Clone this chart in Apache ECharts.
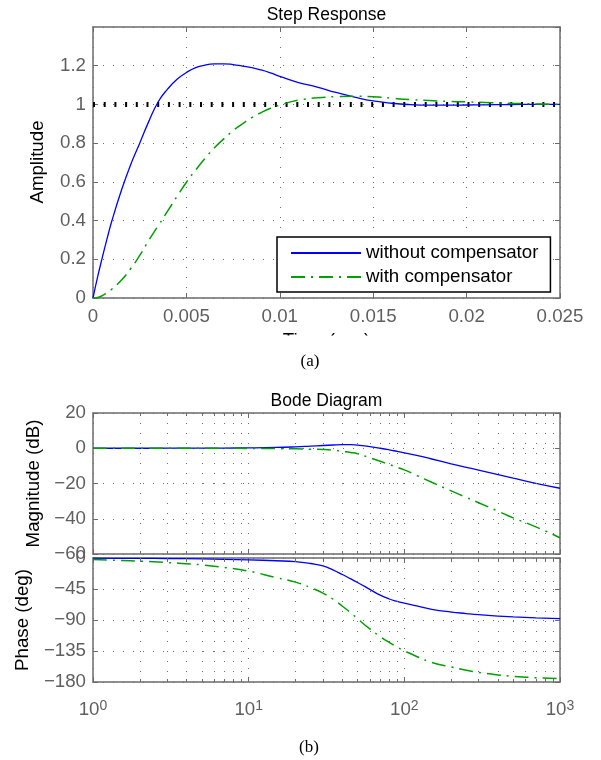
<!DOCTYPE html>
<html>
<head>
<meta charset="utf-8">
<title>Step response and Bode diagram</title>
<script src="https://cdn.jsdelivr.net/npm/echarts@6/dist/echarts.min.js"></script>
<style>
  html, body { margin: 0; padding: 0; background: #fff; }
  #chart { width: 601px; height: 760px; }
</style>
</head>
<body>
<div id="chart"></div>
<script>
// ---- (a) step response -------------------------------------------------
// time samples in seconds
const stepTime = [0, 0.00025, 0.0005, 0.00075, 0.001, 0.0015, 0.002, 0.0025, 0.003, 0.0035,
  0.004, 0.0045, 0.005, 0.0055, 0.006, 0.0065, 0.007, 0.0075, 0.008, 0.0085, 0.009, 0.0095,
  0.010, 0.011, 0.012, 0.013, 0.014, 0.015, 0.016, 0.017, 0.018, 0.019, 0.020, 0.021,
  0.022, 0.023, 0.024, 0.025];
const stepWithout = [0, 0.11, 0.21, 0.305, 0.395, 0.55, 0.685, 0.80, 0.915, 1.015,
  1.08, 1.13, 1.165, 1.19, 1.203, 1.209, 1.21, 1.206, 1.198, 1.19, 1.178, 1.163,
  1.145, 1.113, 1.09, 1.062, 1.038, 1.018, 1.006, 0.999, 0.996, 0.996, 0.997, 0.998,
  0.999, 1.0, 1.0, 1.0];
const stepWith = [0, 0.003, 0.012, 0.027, 0.045, 0.09, 0.15, 0.22, 0.30, 0.375,
  0.45, 0.525, 0.598, 0.662, 0.722, 0.776, 0.822, 0.865, 0.90, 0.932, 0.958, 0.98,
  0.997, 1.022, 1.034, 1.04, 1.042, 1.04, 1.032, 1.025, 1.02, 1.016, 1.013, 1.01,
  1.007, 1.004, 1.002, 1.0];
// final value reference
const finalValueTime = [0, 0.025];
const finalValue = [1, 1];

// ---- (b) Bode diagram --------------------------------------------------
const freq = [1, 1.5, 2, 3, 5, 7, 10, 15, 20, 25, 30, 35, 40, 45, 50, 60, 70, 80, 90,
  100, 120, 150, 200, 250, 300, 400, 500, 700, 1000];
const magWithout = [0, 0, 0.01, 0.02, 0.05, 0.1, 0.2, 0.45, 0.8, 1.2, 1.55, 1.85, 2.05, 2.1,
  1.8, 0.9, 0.0, -0.9, -1.8, -2.6, -4.0, -6.1, -8.8, -10.8, -12.4, -15.0, -17.0, -19.9, -22.7];
const magWith = [0, 0, 0, 0, -0.02, -0.04, -0.08, -0.2, -0.35, -0.55, -0.7, -1.1, -1.8, -2.4,
  -3.1, -5.4, -7.4, -9.2, -10.8, -12.3, -15.4, -19.3, -24.2, -27.9, -30.9, -35.7, -39.5, -44.6, -50.8];
const phaseWithout = [-0.3, -0.4, -0.6, -0.8, -1.3, -1.9, -2.7, -4, -5.3, -8, -11.5, -17.5, -24,
  -30, -35.5, -45.5, -54, -59.5, -63, -65.5, -69.5, -74.5, -78.5, -80.6, -82.2, -84.4, -85.5, -86.8, -88];
const phaseWith = [-2.2, -3.5, -4.5, -6.6, -10, -13.8, -19, -28.5, -35, -43, -51, -60, -70,
  -79, -88, -103, -114, -122.5, -129.5, -134.7, -143, -151.5, -158.2, -162.8, -166, -169.8, -171.8, -173.8, -175];

const seriesNames = ['without compensator', 'with compensator'];

// ---- styling -----------------------------------------------------------
const SANS = '"Liberation Sans", Arial, Helvetica, sans-serif';
const SERIF = '"Liberation Serif", "Times New Roman", serif';
const FRAME = '#6b6b6b';
const TICKTEXT = '#5f5f5f';
const GRIDDOT = '#707070';
const BLUE = '#0000ff';
const GREEN = '#00a000';
const FS = 18.7;

const zip = (xs, ys) => xs.map((x, i) => [x, ys[i]]);
const minus = v => (v < 0 ? '\u2212' + Math.abs(v) : String(v));

// log-decade positions 2..9 within each decade
const minorFreq = [];
for (let d = 1; d < 1000; d *= 10) {
  for (let k = 2; k <= 9; k++) minorFreq.push(k * d);
}

const dotted = { type: [1, 9], color: GRIDDOT, width: 1 };
const axisLine = { onZero: false, lineStyle: { color: FRAME, width: 1.5 } };
const tickIn = { inside: true, length: 5, lineStyle: { color: FRAME, width: 1 } };
const label = { color: TICKTEXT, fontSize: FS, fontFamily: SANS };

function xAxis(grid, pos, extra) {
  return Object.assign({
    gridIndex: grid, position: pos,
    axisLine, axisTick: tickIn,
    axisLabel: { show: false },
    splitLine: { show: false }
  }, extra);
}
function yAxis(grid, pos, extra) {
  return Object.assign({
    gridIndex: grid, position: pos, type: 'value',
    axisLine, axisTick: tickIn,
    axisLabel: { show: false },
    splitLine: { show: false }
  }, extra);
}

const timeAxis = { type: 'value', min: 0, max: 0.025, interval: 0.005 };
const ampAxis = { min: 0, max: 1.4, interval: 0.2 };
const freqAxis = { type: 'log', logBase: 10, min: 1, max: 1000 };
const magAxis = { min: -60, max: 20, interval: 20 };
const phaseAxis = { min: -180, max: 0, interval: 45 };

// dotted vertical lines at the in-between decade values
const minorGrid = {
  silent: true, symbol: ['none', 'none'], animation: false,
  label: { show: false },
  lineStyle: { type: [1, 9], color: GRIDDOT, width: 1 },
  data: minorFreq.map(f => ({ xAxis: f }))
};

// short inward tick marks on the top and bottom frame at the same values
function minorTicks(lo, hi, plotHeight) {
  const len = (hi - lo) * 3 / plotHeight;
  const data = [];
  minorFreq.forEach(f => {
    data.push([{ coord: [f, lo] }, { coord: [f, lo + len] }]);
    data.push([{ coord: [f, hi] }, { coord: [f, hi - len] }]);
  });
  return {
    silent: true, symbol: ['none', 'none'], animation: false,
    label: { show: false },
    lineStyle: { type: 'solid', color: FRAME, width: 1 },
    data
  };
}

const logLabel = {
  show: true, margin: 17,
  formatter: v => '{b|10}{s|' + Math.round(Math.log10(v)) + '}',
  rich: {
    b: { fontSize: FS, lineHeight: 22, color: TICKTEXT, fontFamily: SANS },
    s: { fontSize: 14, lineHeight: 10, verticalAlign: 'top', color: TICKTEXT, fontFamily: SANS }
  }
};

const blueStyle = { color: BLUE, width: 1.3 };
const greenStyle = { color: GREEN, width: 1.5, type: [14, 6, 2, 6] };

const option = {
  animation: false,
  backgroundColor: '#fff',
  grid: [
    { left: 93, right: 41, top: 27, height: 271 },
    { left: 93, right: 41, top: 413, height: 141 },
    { left: 93, right: 41, top: 558, height: 124 }
  ],
  xAxis: [
    xAxis(0, 'bottom', Object.assign({}, timeAxis, {
      axisLabel: Object.assign({ show: true, margin: 9 }, label),
      splitLine: { show: true, lineStyle: dotted }
    })),
    xAxis(0, 'top', Object.assign({}, timeAxis)),
    xAxis(1, 'bottom', Object.assign({}, freqAxis, { splitLine: { show: true, lineStyle: dotted } })),
    xAxis(1, 'top', Object.assign({}, freqAxis)),
    xAxis(2, 'bottom', Object.assign({}, freqAxis, {
      axisLabel: logLabel,
      splitLine: { show: true, lineStyle: dotted }
    })),
    xAxis(2, 'top', Object.assign({}, freqAxis))
  ],
  yAxis: [
    yAxis(0, 'left', Object.assign({}, ampAxis, {
      axisLabel: Object.assign({ show: true, margin: 7, showMaxLabel: false }, label),
      splitLine: { show: true, lineStyle: dotted }
    })),
    yAxis(0, 'right', Object.assign({}, ampAxis)),
    yAxis(1, 'left', Object.assign({}, magAxis, {
      axisLabel: Object.assign({ show: true, margin: 7, formatter: minus }, label),
      splitLine: { show: true, lineStyle: dotted }
    })),
    yAxis(1, 'right', Object.assign({}, magAxis)),
    yAxis(2, 'left', Object.assign({}, phaseAxis, {
      axisLabel: Object.assign({ show: true, margin: 7, formatter: minus }, label),
      splitLine: { show: true, lineStyle: dotted }
    })),
    yAxis(2, 'right', Object.assign({}, phaseAxis))
  ],
  legend: {
    data: seriesNames,
    orient: 'vertical',
    left: 277, top: 237,
    padding: [6.5, 12, 5.5, 13],
    itemGap: 5,
    itemWidth: 70, itemHeight: 14,
    backgroundColor: '#fff',
    borderColor: '#000', borderWidth: 1.5, borderRadius: 0,
    // keep only the line sample in each legend key
    itemStyle: { color: 'rgba(0,0,0,0)', borderWidth: 0, opacity: 0 },
    textStyle: { color: '#000', fontSize: FS, fontFamily: SANS },
    selectedMode: false
  },
  series: [
    {
      name: 'final value', type: 'line', xAxisIndex: 0, yAxisIndex: 0,
      data: zip(finalValueTime, finalValue), showSymbol: false, symbol: 'none',
      lineStyle: { color: '#000', width: 5, type: [2, 8.7] }
    },
    {
      name: seriesNames[0], type: 'line', xAxisIndex: 0, yAxisIndex: 0,
      data: zip(stepTime, stepWithout), smooth: true, symbol: 'none',
      lineStyle: blueStyle, itemStyle: { color: BLUE }
    },
    {
      name: seriesNames[1], type: 'line', xAxisIndex: 0, yAxisIndex: 0,
      data: zip(stepTime, stepWith), smooth: true, symbol: 'none',
      lineStyle: greenStyle, itemStyle: { color: GREEN }
    },
    {
      name: seriesNames[0], type: 'line', xAxisIndex: 2, yAxisIndex: 2,
      data: zip(freq, magWithout), smooth: true, symbol: 'none',
      lineStyle: blueStyle, itemStyle: { color: BLUE }, markLine: minorGrid
    },
    {
      name: seriesNames[1], type: 'line', xAxisIndex: 2, yAxisIndex: 2,
      data: zip(freq, magWith), smooth: true, symbol: 'none',
      lineStyle: greenStyle, itemStyle: { color: GREEN },
      markLine: minorTicks(magAxis.min, magAxis.max, 141)
    },
    {
      name: seriesNames[0], type: 'line', xAxisIndex: 4, yAxisIndex: 4,
      data: zip(freq, phaseWithout), smooth: true, symbol: 'none',
      lineStyle: blueStyle, itemStyle: { color: BLUE }, markLine: minorGrid
    },
    {
      name: seriesNames[1], type: 'line', xAxisIndex: 4, yAxisIndex: 4,
      data: zip(freq, phaseWith), smooth: true, symbol: 'none',
      lineStyle: greenStyle, itemStyle: { color: GREEN },
      markLine: minorTicks(phaseAxis.min, phaseAxis.max, 124)
    }
  ],
  graphic: [
    { type: 'text', x: 326.5, y: 15, z: 50,
      style: { text: 'Step Response', fill: '#000', font: '17.5px ' + SANS, align: 'center', verticalAlign: 'middle', textAlign: 'center', textVerticalAlign: 'middle' } },
    { type: 'text', x: 37.5, y: 162, rotation: Math.PI / 2, z: 50,
      style: { text: 'Amplitude', fill: '#000', font: FS + 'px ' + SANS, align: 'center', verticalAlign: 'middle', textAlign: 'center', textVerticalAlign: 'middle' } },
    { type: 'text', x: 326.5, y: 331, z: 50,
      style: { text: 'Time (sec)', fill: '#000', font: FS + 'px ' + SANS, align: 'center', verticalAlign: 'top', textAlign: 'center', textVerticalAlign: 'top' } },
    // caption band sits over the lower part of the time label
    { type: 'rect', z: 60, shape: { x: 0, y: 335.5, width: 601, height: 40 }, style: { fill: '#fff' } },
    { type: 'text', x: 310, y: 362, z: 70,
      style: { text: '(a)', fill: '#000', font: '17px ' + SERIF, align: 'center', verticalAlign: 'middle', textAlign: 'center', textVerticalAlign: 'middle' } },
    { type: 'text', x: 326.5, y: 401.5, z: 50,
      style: { text: 'Bode Diagram', fill: '#000', font: '17.5px ' + SANS, align: 'center', verticalAlign: 'middle', textAlign: 'center', textVerticalAlign: 'middle' } },
    { type: 'text', x: 33.5, y: 483.5, rotation: Math.PI / 2, z: 50,
      style: { text: 'Magnitude (dB)', fill: '#000', font: FS + 'px ' + SANS, align: 'center', verticalAlign: 'middle', textAlign: 'center', textVerticalAlign: 'middle' } },
    { type: 'text', x: 22.5, y: 620, rotation: Math.PI / 2, z: 50,
      style: { text: 'Phase (deg)', fill: '#000', font: FS + 'px ' + SANS, align: 'center', verticalAlign: 'middle', textAlign: 'center', textVerticalAlign: 'middle' } },
    { type: 'text', x: 309, y: 748, z: 70,
      style: { text: '(b)', fill: '#000', font: '17px ' + SERIF, align: 'center', verticalAlign: 'middle', textAlign: 'center', textVerticalAlign: 'middle' } }
  ]
};

const chart = echarts.init(document.getElementById('chart'), null, { renderer: 'canvas' });
chart.setOption(option);
</script>
</body>
</html>
